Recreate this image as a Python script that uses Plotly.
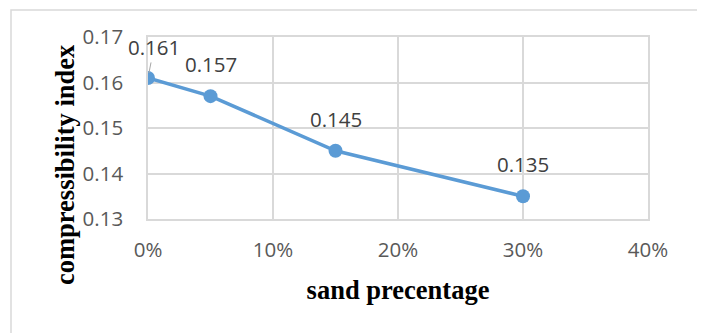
import plotly.graph_objects as go

sand_pct = [0.0, 0.05, 0.15, 0.30]
compress_index = [0.161, 0.157, 0.145, 0.135]
label_text = ["0.161", "0.157", "0.145", "0.135"]
x_ticks = [0.0, 0.1, 0.2, 0.3, 0.4]
y_ticks = [0.13, 0.14, 0.15, 0.16, 0.17]

# page body has an 8px margin; compensate so the target pixel layout is kept
OFF = 8
W, H = 705 - OFF, 333 - OFF
L, R, T, B = 148 - OFF, 57, 37 - OFF, 114
pw, ph = W - L - R, H - T - B


def px_x(px):
    return (px - OFF - L) / pw


def px_y(py):
    return (T + ph - (py - OFF)) / ph


grid = "#d9d9d9"
tick_font = dict(family="Open Sans, Liberation Sans, sans-serif", size=20.5, color="#595959")
label_font = dict(family="Open Sans, Liberation Sans, sans-serif", size=20.5, color="#404040")
title_font = dict(family="Liberation Serif, Times New Roman, serif", size=26.5, color="#000000")

fig = go.Figure()
fig.add_trace(go.Scatter(
    x=sand_pct, y=compress_index, mode="lines+markers",
    line=dict(color="#5b9bd5", width=3.5),
    marker=dict(color="#5b9bd5", size=14),
    showlegend=False, hoverinfo="skip",
))

annotations = []
for i, (xv, yv, t) in enumerate(zip(sand_pct, compress_index, label_text)):
    if i == 0:
        annotations.append(dict(x=xv, y=yv, xref="x", yref="y", text=t, font=label_font,
                                showarrow=True, arrowhead=0, arrowwidth=1, arrowcolor="#a6a6a6",
                                ax=6, ay=-31, standoff=5))
    else:
        annotations.append(dict(x=xv, y=yv, xref="x", yref="y", text=t, font=label_font,
                                showarrow=False, yshift=32, xanchor="center", yanchor="middle"))

annotations.append(dict(x=px_x(65), y=px_y(165), xref="paper", yref="paper",
                        text="<b>compressibility index</b>", textangle=-90, showarrow=False,
                        font=title_font, xanchor="center", yanchor="middle"))

fig.update_layout(
    width=W, height=H,
    margin=dict(l=L, r=R, t=T, b=B),
    paper_bgcolor="white", plot_bgcolor="white",
    annotations=annotations,
    shapes=[dict(type="rect", xref="paper", yref="paper",
                 x0=px_x(11), x1=px_x(698),
                 y0=px_y(345), y1=px_y(10),
                 line=dict(color="#d9d9d9", width=1.5), fillcolor="rgba(0,0,0,0)", layer="below")],
    xaxis=dict(range=[0, 0.4], tickvals=x_ticks, tickformat=".0%", showgrid=True, gridcolor=grid,
               gridwidth=1.5, showline=True, mirror=True, linecolor=grid, linewidth=1.5,
               zeroline=False, ticks="", tickfont=tick_font, ticklabelstandoff=12,
               title=dict(text="<b>sand precentage</b>", font=title_font, standoff=18),
               automargin=False, fixedrange=True),
    yaxis=dict(range=[0.13, 0.17], tickvals=y_ticks, tickformat=".2f", showgrid=True, gridcolor=grid,
               gridwidth=1.5, showline=True, mirror=True, linecolor=grid, linewidth=1.5,
               zeroline=False, ticks="", tickfont=tick_font, ticklabelstandoff=19,
               automargin=False, fixedrange=True),
)

fig.write_html("out.html", config=dict(displayModeBar=False))
